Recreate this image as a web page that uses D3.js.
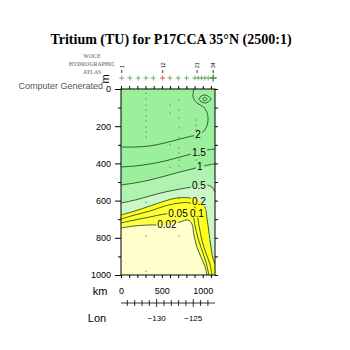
<!DOCTYPE html>
<html><head><meta charset="utf-8">
<script src="https://cdn.jsdelivr.net/npm/d3@7"></script>
<style>body{margin:0;background:#fff}svg{display:block}</style>
</head><body>
<svg id="chart" width="350" height="350"></svg>
<script>
// Section: tritium along P17CCA near 35°N, depth 0–1000 m
const titleText = "Tritium (TU) for P17CCA 35\u00B0N (2500:1)";
const depthTicks = [0, 200, 400, 600, 800, 1000];
const depthMinor = [100, 300, 500, 700, 900];
const kmTicks = [0, 500, 1000];
const kmMinor = [0,100,200,300,400,500,600,700,800,900,1000,1100];
const lonTicks = [-130, -125];
const lonMinor = [-134,-133,-132,-131,-130,-129,-128,-127,-126,-125,-124,-123];

// Stations along the section (km) and their marker kind
const stationKm = [9,110,211,305,395,510,599,700,803,904,945,986,1026,1067,1128];
const stationKind = ["n","n","n","n","n","r","n","n","n","n","n","n","n","n","g"];
const stationLabelKm = [9,510,930,1128];
const stationLabels = ["1","12","21","34"];

// Contour levels (TU) and their traced lines as [km, depth m]
const levels = ["2", "1.5", "1", "0.5", "0.2", "0.1", "0.05", "0.02"];
const line2   = [[0,312],[171,312],[354,306],[538,290],[721,269],[868,253],[941,247],[1014,226],[1058,188],[1058,134],[1010,97],[929,75],[882,43],[892,0]];
const line1_5 = [[0,419],[171,414],[354,403],[538,387],[721,366],[868,349],[953,339],[1051,328],[1150,323]];
const line1   = [[0,516],[171,505],[354,489],[538,468],[721,446],[868,430],[965,419],[1063,409],[1150,403]];
const line0_5 = [[0,613],[171,597],[354,575],[538,554],[721,538],[868,527],[953,521],[1051,516],[1112,527],[1150,554]];
const line0_2 = [[0,677],[171,656],[354,629],[538,602],[684,586],[843,586],[953,602],[1026,634],[1051,693],[1075,769],[1100,849],[1124,909],[1150,941]];
const line0_1 = [[0,699],[171,677],[354,656],[538,629],[721,613],[843,613],[904,634],[929,667],[953,731],[990,812],[1039,882],[1088,941],[1112,1000]];
const line0_05 = [[0,720],[171,704],[354,688],[538,672],[697,667],[819,661],[880,683],[904,731],[941,801],[990,866],[1039,930],[1075,1000]];
const line0_02 = [[0,747],[171,736],[354,731],[562,731],[721,715],[819,704],[868,726],[892,785],[929,849],[978,903],[1026,952],[1051,1000]];
// small closed contours near the eastern end
const loopOuter = [[953,54],[990,36],[1026,32],[1063,38],[1100,54],[1063,70],[1026,75],[990,70]];
const loopInner = [[1000,54],[1026,45],[1052,54],[1026,63]];

const labelKm    = [941, 953, 965, 953, 953, 929, 697, 562];
const labelDepth = [247, 339, 419, 521, 607, 667, 672, 731];

// Bottle sample positions
const sampleKm    = [305,305,305,305,305,305,305,305,305,305,305,305, 600,600,600,600, 710,710,710,710,710,710,710,710,710,710,710, 917,917,917,917,917,917];
const sampleDepth = [22,54,86,113,145,172,204,231,258,610,790,980, 86,129,300,420, 59,113,156,209,263,317,344,382,414,590,790, 167,194,220,263,328,382];

const svg = d3.select("#chart");
const x = d3.scaleLinear().domain([0, 1150]).range([121, 215]);
const y = d3.scaleLinear().domain([0, 1000]).range([89, 275]);
const lon = d3.scaleLinear().domain([-130, -125]).range([x(436), x(884)]);

const lineGen = d3.line().x(d => x(d[0])).y(d => y(d[1])).curve(d3.curveCatmullRom.alpha(0.5));
const loopGen = d3.line().x(d => x(d[0])).y(d => y(d[1])).curve(d3.curveCatmullRomClosed.alpha(0.5));

// Title
svg.append("text").attr("x", 171).attr("y", 44).attr("text-anchor", "middle")
  .attr("font-family", "Liberation Serif, serif").attr("font-weight", "bold")
  .attr("font-size", 14).text(titleText);

// Atlas mark
const logo = svg.append("g").attr("fill", "#8a8a8a").attr("font-family", "Liberation Serif, serif")
  .attr("font-weight", "bold").attr("text-anchor", "middle").attr("font-size", 5.5);
logo.append("text").attr("x", 92).attr("y", 58).text("WOCE");
logo.append("text").attr("x", 92).attr("y", 66).text("HYDROGRAPHIC");
logo.append("text").attr("x", 92).attr("y", 74).text("ATLAS");
svg.append("text").attr("x", 103).attr("y", 89).attr("text-anchor", "end")
  .attr("font-family", "Liberation Sans, Arial, sans-serif").attr("font-size", 9)
  .attr("fill", "#555").text("Computer Generated");

// Plot clip
svg.append("clipPath").attr("id", "plotClip").append("rect")
  .attr("x", x(0)).attr("y", y(0)).attr("width", x(1150) - x(0)).attr("height", y(1000) - y(0));

const plot = svg.append("g").attr("clip-path", "url(#plotClip)");

// Filled bands: background is the highest band, then each lower band on top
plot.append("rect").attr("x", x(0)).attr("y", y(0)).attr("width", x(1150) - x(0))
  .attr("height", y(1000) - y(0)).attr("fill", "#9cf09c");

const fillLines = [line1, line0_5, line0_2, line0_1, line0_05, line0_02];
const fillColors = ["#b0f3b0", "#ccf7c6", "#ffff1e", "#ffff30", "#ffff48", "#ffffcc"];
fillLines.forEach((pts, i) => {
  const last = pts[pts.length - 1];
  let d = lineGen(pts);
  if (last[1] < 1000) d += `L${x(1150)},${y(1000)}`;
  d += `L${x(0)},${y(1000)}Z`;
  plot.append("path").attr("d", d).attr("fill", fillColors[i]);
});

// Contour labels
const labelG = svg.append("g").attr("font-family", "Liberation Sans, Arial, sans-serif")
  .attr("font-size", 10).attr("fill", "#000").attr("text-anchor", "middle");
const labelNodes = levels.map((t, i) =>
  labelG.append("text").attr("x", x(labelKm[i])).attr("y", y(labelDepth[i]) + 3.5).text(t).node());

// Mask cutting gaps in the lines under labels
const mask = svg.append("mask").attr("id", "labelMask");
mask.append("rect").attr("x", 0).attr("y", 0).attr("width", 350).attr("height", 350).attr("fill", "#fff");
labelNodes.forEach(n => {
  const b = n.getBBox();
  mask.append("rect").attr("x", b.x - 1).attr("y", b.y + 1).attr("width", b.width + 2)
    .attr("height", b.height - 2).attr("fill", "#000");
});

const lines = plot.append("g").attr("mask", "url(#labelMask)")
  .attr("fill", "none").attr("stroke", "#1a3a1a").attr("stroke-width", 0.8);
[line2, line1_5, line1, line0_5, line0_2, line0_1, line0_05, line0_02].forEach(pts =>
  lines.append("path").attr("d", lineGen(pts)));
lines.append("path").attr("d", loopGen(loopOuter));
lines.append("path").attr("d", loopGen(loopInner));

// Bottle samples
plot.append("g").attr("fill", "#555").selectAll("rect")
  .data(sampleKm.map((k, i) => [k, sampleDepth[i]]))
  .join("rect").attr("x", d => x(d[0]) - 0.5).attr("y", d => y(d[1]) - 0.5)
  .attr("width", 1).attr("height", 1);

// Frame
svg.append("rect").attr("x", x(0)).attr("y", y(0)).attr("width", x(1150) - x(0))
  .attr("height", y(1000) - y(0)).attr("fill", "none").attr("stroke", "#000").attr("stroke-width", 1);

const axisFont = g => g.attr("font-family", "Liberation Sans, Arial, sans-serif").attr("font-size", 9);
const noDomain = g => g.select(".domain").remove();

// Depth axes
svg.append("g").attr("transform", `translate(${x(0)},0)`)
  .call(d3.axisLeft(y).tickValues(depthTicks).tickSize(6).tickPadding(4).tickFormat(d3.format("d")))
  .call(noDomain).call(axisFont);
svg.append("g").attr("transform", `translate(${x(0)},0)`)
  .call(d3.axisLeft(y).tickValues(depthMinor).tickSize(3).tickFormat(""))
  .call(noDomain);
svg.append("g").attr("transform", `translate(${x(1150)},0)`)
  .call(d3.axisRight(y).tickValues(depthTicks.concat(depthMinor)).tickSize(3).tickFormat(""))
  .call(noDomain);
svg.append("text").attr("transform", `translate(${x(0) - 12},${y(0) - 10}) rotate(-90)`)
  .attr("text-anchor", "middle").attr("font-family", "Liberation Sans, Arial, sans-serif")
  .attr("font-size", 11).text("m");

// Distance axes
svg.append("g").attr("transform", `translate(0,${y(0)})`)
  .call(d3.axisTop(x).tickValues(kmMinor).tickSize(3).tickFormat(""))
  .call(noDomain);
svg.append("g").attr("transform", `translate(0,${y(1000)})`)
  .call(d3.axisBottom(x).tickValues(kmMinor).tickSize(3).tickFormat(""))
  .call(noDomain);
svg.append("g").attr("transform", `translate(0,${y(1000) + 10})`)
  .call(d3.axisBottom(x).tickValues(kmTicks).tickSize(0).tickPadding(3).tickFormat(d3.format("d")))
  .call(noDomain).call(axisFont);
svg.append("text").attr("x", 100).attr("y", 295).attr("text-anchor", "middle")
  .attr("font-family", "Liberation Sans, Arial, sans-serif").attr("font-size", 11).text("km");

// Longitude axis
const lonY = 303;
svg.append("line").attr("x1", x(0)).attr("x2", x(1150)).attr("y1", lonY).attr("y2", lonY)
  .attr("stroke", "#000").attr("stroke-width", 0.8);
svg.append("g").selectAll("line").data(lonMinor).join("line")
  .attr("x1", d => lon(d)).attr("x2", d => lon(d))
  .attr("y1", d => lonTicks.includes(d) ? lonY - 4 : lonY - 3)
  .attr("y2", d => lonTicks.includes(d) ? lonY + 4 : lonY + 3)
  .attr("stroke", "#000").attr("stroke-width", 0.8);
svg.append("g").selectAll("text").data(lonTicks).join("text")
  .attr("x", d => lon(d)).attr("y", 321).attr("text-anchor", "middle")
  .attr("font-family", "Liberation Sans, Arial, sans-serif").attr("font-size", 8)
  .text(d => "\u2212" + Math.abs(d));
svg.append("text").attr("x", 97).attr("y", 322).attr("text-anchor", "middle")
  .attr("font-family", "Liberation Sans, Arial, sans-serif").attr("font-size", 11).text("Lon");

// Station markers above the section
const plusColor = { n: "#5d9a5d", r: "#d84040", g: "#3f8a3f" };
svg.append("g").selectAll("path").data(stationKm).join("path")
  .attr("d", (d, i) => { const s = stationKind[i] === "g" ? 3.5 : 2.5; return `M${-s},0H${s}M0,${-s}V${s}`; })
  .attr("transform", d => `translate(${x(d)},78)`)
  .attr("fill", "none")
  .attr("stroke", (d, i) => plusColor[stationKind[i]])
  .attr("stroke-width", (d, i) => stationKind[i] === "g" ? 1.3 : 0.8);
svg.append("g").selectAll("line").data(stationLabelKm).join("line")
  .attr("x1", d => x(d)).attr("x2", d => x(d)).attr("y1", 70).attr("y2", 73)
  .attr("stroke", "#000").attr("stroke-width", 0.8);
svg.append("g").selectAll("text").data(stationLabelKm).join("text")
  .attr("transform", d => `translate(${x(d) + 2},68) rotate(-90)`)
  .attr("font-family", "Liberation Sans, Arial, sans-serif").attr("font-size", 5)
  .text((d, i) => stationLabels[i]);
</script>
</body></html>
